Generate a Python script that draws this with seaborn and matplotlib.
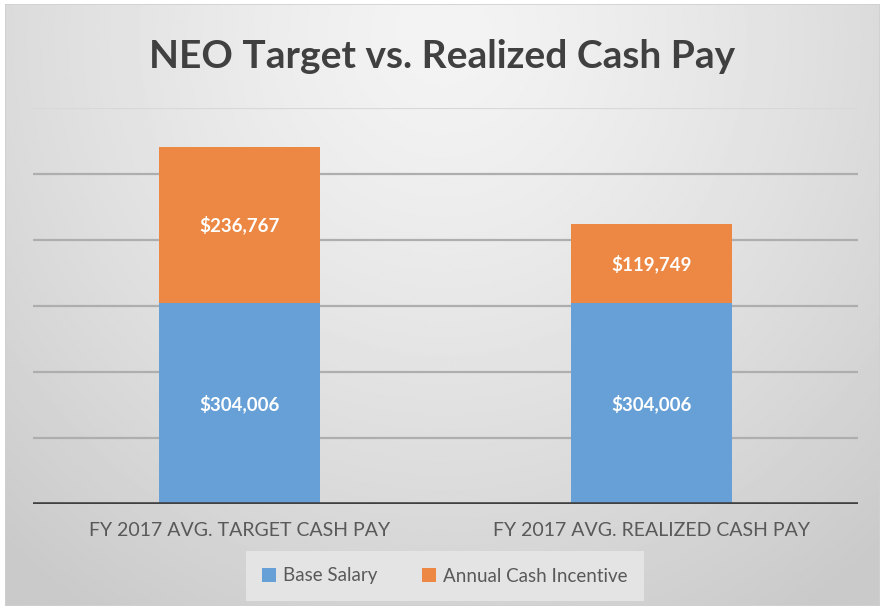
import numpy as np
import pandas as pd
import matplotlib
matplotlib.use("Agg")
import matplotlib.pyplot as plt
import seaborn as sns
from matplotlib.patches import Rectangle, Patch

categories = ["FY 2017 AVG. TARGET CASH PAY", "FY 2017 AVG. REALIZED CASH PAY"]
base_salary = [304006, 304006]
annual_incentive = [236767, 119749]
series_names = ["Base Salary", "Annual Cash Incentive"]
title = "NEO Target vs. Realized Cash Pay"

BLUE = "#66A0D6"
ORANGE = "#EC8843"

sns.set_theme(style="white")
plt.rcParams['font.family'] = ['Lato', 'DejaVu Sans']

W, H = 885, 613
fig = plt.figure(figsize=(W / 100, H / 100), dpi=100)
fig.patch.set_facecolor("white")

# background gradient panel
bg = fig.add_axes([5 / W, 1 - 606 / H, 875 / W, 602 / H])
bg.set_axis_off()
ny, nx = 300, 440
yy, xx = np.mgrid[0:ny, 0:nx]
dx = (xx / nx - 0.5) / 0.75
dy = (yy / ny - 0.05) / 1.15
r = np.clip(np.sqrt(dx ** 2 + dy ** 2), 0, 1)
light, dark = 0.955, 0.79
img = light - (light - dark) * r ** 1.3
bg.imshow(img, cmap="gray", vmin=0, vmax=1, aspect="auto", extent=[0, 1, 0, 1], interpolation="bilinear")
bg.set_xlim(0, 1)
bg.set_ylim(0, 1)
bg.add_patch(Rectangle((0, 0), 1, 1, fill=False, edgecolor="#d0d0d0", lw=1.2, transform=bg.transAxes))

ax = fig.add_axes([33 / W, 1 - 504 / H, 825 / W, (504 - 108) / H])
ax.patch.set_alpha(0)

totals = [b + a for b, a in zip(base_salary, annual_incentive)]
df = pd.DataFrame({"category": categories, "base": base_salary, "total": totals})

sns.barplot(data=df, x="category", y="total", color=ORANGE, saturation=1, width=0.39, ax=ax,
            zorder=3, linewidth=0, edgecolor="none")
sns.barplot(data=df, x="category", y="base", color=BLUE, saturation=1, width=0.39, ax=ax,
            zorder=3, linewidth=0, edgecolor="none")

ax.set_ylim(0, 600000)
ax.set_xlim(-0.5, 1.5)
for v in range(100000, 600001, 100000):
    ax.axhline(v, color="#aeaeae" if v < 600000 else "#d8d8d8", lw=1.6, zorder=1)
ax.axhline(0, color="#404040", lw=2.6, zorder=4)
for s in ax.spines.values():
    s.set_visible(False)
ax.set_yticks([])
ax.set_xlabel("")
ax.set_ylabel("")
ax.tick_params(axis="x", length=0, pad=13, labelsize=14, labelcolor="#595959")

for i in range(len(categories)):
    ax.text(i, base_salary[i] / 2, f"${base_salary[i]:,}", ha="center", va="center",
            color="white", fontsize=13.5, fontweight="bold", zorder=5)
    ax.text(i, base_salary[i] + annual_incentive[i] / 2, f"${annual_incentive[i]:,}", ha="center",
            va="center", color="white", fontsize=13.5, fontweight="bold", zorder=5)

fig.text(0.5, 1 - 56 / H, title, ha="center", va="center", fontsize=28, fontweight="bold", color="#404040")

handles = [Patch(facecolor=BLUE, edgecolor="none"), Patch(facecolor=ORANGE, edgecolor="none")]
leg = fig.legend(handles, series_names, loc="center", bbox_to_anchor=(445 / W, 1 - 576 / H), ncol=2,
                 frameon=True, fontsize=13.5, handlelength=0.7, handleheight=0.7, handletextpad=0.4,
                 columnspacing=2.4, borderpad=0.9, labelcolor="#595959")
leg.get_frame().set_facecolor("#e4e4e4")
leg.get_frame().set_edgecolor("none")
leg.get_frame().set_boxstyle("square", pad=0)
leg.get_frame().set_alpha(1)

fig.savefig("out.png", dpi=100, facecolor=fig.get_facecolor())
